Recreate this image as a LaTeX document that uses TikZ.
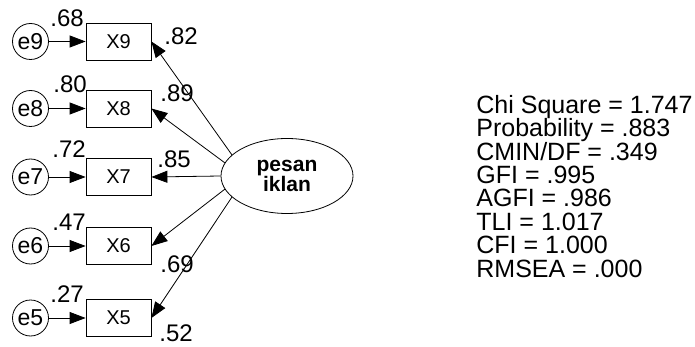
\documentclass[tikz,border=0pt]{standalone}
\usepackage{fontspec}
\setmainfont{Liberation Sans}
\usetikzlibrary{arrows.meta,shapes.geometric}
\begin{document}
\begin{tikzpicture}[x=1pt,y=-1pt,line width=0.8pt,
  errnode/.style={draw,circle,minimum size=36pt,inner sep=0pt,font=\fontsize{23}{23}\selectfont},
  obsnode/.style={draw,rectangle,minimum width=65pt,minimum height=37pt,inner sep=0pt,font=\fontsize{20}{20}\selectfont},
  latnode/.style={draw,ellipse,minimum width=132pt,minimum height=75pt,inner sep=0pt,align=center,font=\bfseries\fontsize{21}{20}\selectfont},
  link/.style={-{Triangle[length=16pt,width=12pt]}},
  lab/.style={anchor=base west,inner sep=0pt,font=\fontsize{24}{24}\selectfont},
  stats/.style={anchor=north west,inner sep=0pt,align=left,font=\fontsize{25}{23.4}\selectfont}]
\useasboundingbox (0,0) rectangle (695,347);
% error terms
\node[errnode] (e9) at (30.5,41.5) {e9};
\node[errnode] (e8) at (30.5,108.5) {e8};
\node[errnode] (e7) at (30.5,177) {e7};
\node[errnode] (e6) at (30.5,246) {e6};
\node[errnode] (e5) at (30.5,318) {e5};
% observed
\node[obsnode] (x9) at (118.5,41.5) {X9};
\node[obsnode] (x8) at (118.5,108.5) {X8};
\node[obsnode] (x7) at (118.5,177) {X7};
\node[obsnode] (x6) at (118.5,246) {X6};
\node[obsnode] (x5) at (118.5,318) {X5};
% latent
\node[latnode] (lat) at (287,176) {pesan\\iklan};
% arrows
\foreach \i in {9,8,7,6,5} {\draw[link] (e\i) -- (x\i);}
\draw[link] (lat.159) -- (x9.east);
\draw[link] (lat.168) -- (x8.east);
\draw[link] (lat.west) -- (x7.east);
\draw[link] (lat.192) -- (x6.east);
\draw[link] (lat.201) -- (x5.east);
% labels
\node[lab] (l68) at (50,27) {.68};
\node[lab] (l80) at (53,93) {.80};
\node[lab] (l72) at (52,158) {.72};
\node[lab] (l47) at (52,230) {.47};
\node[lab] (l27) at (50,302) {.27};
\node[lab] (l82) at (164,45) {.82};
\node[lab] (l89) at (160,102) {.89};
\node[lab] (l85) at (157,168) {.85};
\node[lab] (l69) at (160,272) {.69};
\node[lab] (l52) at (159,341) {.52};
% fit statistics
\node[stats] (fit) at (476,94.7) {Chi Square = 1.747\\Probability = .883\\CMIN/DF = .349\\GFI = .995\\AGFI = .986\\TLI = 1.017\\CFI = 1.000\\RMSEA = .000};
\end{tikzpicture}
\end{document}
